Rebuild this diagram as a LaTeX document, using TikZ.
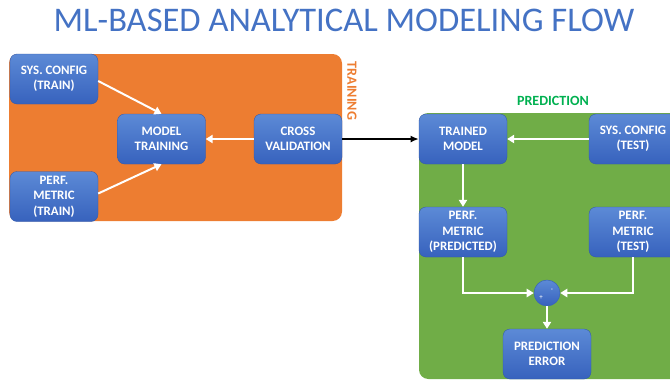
\documentclass[tikz,border=0pt]{standalone}
\usepackage{fontspec}
\setmainfont{Carlito}
\usetikzlibrary{arrows.meta}

\definecolor{titleblue}{HTML}{4472C4}
\definecolor{trainorange}{HTML}{ED7D31}
\definecolor{predgreen}{HTML}{70AD47}
\definecolor{labelgreen}{HTML}{00B050}
\definecolor{boxtop}{HTML}{5C8AD6}
\definecolor{boxbot}{HTML}{3762BD}

\tikzset{
    block/.style={rounded corners=6pt, top color=boxtop, bottom color=boxbot,
        draw=boxbot!90!black, line width=0.3pt, text=white, font=\bfseries\fontsize{11}{13.2}\selectfont,
        align=center, minimum width=2.64cm, minimum height=1.5cm, inner sep=0pt},
    flow/.style={draw=white, line width=1.7pt, -{Triangle[length=6pt,width=7pt]}},
}

\begin{document}
\begin{tikzpicture}[x=0.03cm, y=-0.03cm]
    \useasboundingbox (0,0) rectangle (670,379);

    % title
    \node[text=titleblue, font=\fontsize{29.5}{33}\selectfont] (title) at (344,20) {ML-BASED ANALYTICAL MODELING FLOW};

    % training area
    \fill[trainorange, rounded corners=8pt] (9,54) rectangle (342,221);
    \node[text=trainorange, font=\bfseries\fontsize{12}{14}\selectfont, rotate=-90] (trainlbl) at (352,91) {TRAINING};

    \node[block] (cfgtrain) at (54,79) {SYS. CONFIG\\(TRAIN)};
    \node[block] (metrictrain) at (54,196.5) {PERF.\\METRIC\\(TRAIN)};
    \node[block] (modeltrain) at (161.5,139) {MODEL\\TRAINING};
    \node[block] (crossval) at (298,139) {CROSS\\VALIDATION};

    \draw[flow] (cfgtrain.east) ++(0,2) coordinate (c1) -- (modeltrain.north);
    \draw[flow] (metrictrain.east) ++(0,-3) coordinate (c2) -- (modeltrain.south);
    \draw[flow] (crossval) -- (modeltrain);

    % prediction area
    \fill[predgreen, rounded corners=8pt] (419,113) rectangle (690,379);
    \node[text=labelgreen, font=\bfseries\fontsize{12}{14}\selectfont] (predlbl) at (553,101) {PREDICTION};

    \node[block] (trained) at (463,139) {TRAINED\\MODEL};
    \node[block] (cfgtest) at (633,139) {SYS. CONFIG\\(TEST)};
    \node[block] (metricpred) at (463,232) {PERF.\\METRIC\\(PREDICTED)};
    \node[block] (metrictest) at (633,232) {PERF.\\METRIC\\(TEST)};
    \node[circle, top color=boxtop, bottom color=boxbot, draw=boxbot, minimum size=0.78cm, inner sep=0pt] (sum) at (547,293) {};
    \node[text=white, font=\fontsize{6}{6}\selectfont] (plus) at (541,298) {+};
    \node[text=white, font=\fontsize{6}{6}\selectfont] (minus) at (552,290) {-};
    \node[block] (prederr) at (547,354) {PREDICTION\\ERROR};

    % black link
    \draw[line width=1.6pt, -{Latex[length=7pt,width=6pt]}] (crossval) -- (trained);

    \draw[flow] (cfgtest) -- (trained);
    \draw[flow] (trained) -- (metricpred);
    \draw[flow] (metricpred) |- (sum);
    \draw[flow] (metrictest) |- (sum);
    \draw[flow] (sum) -- (prederr);

\end{tikzpicture}
\end{document}
